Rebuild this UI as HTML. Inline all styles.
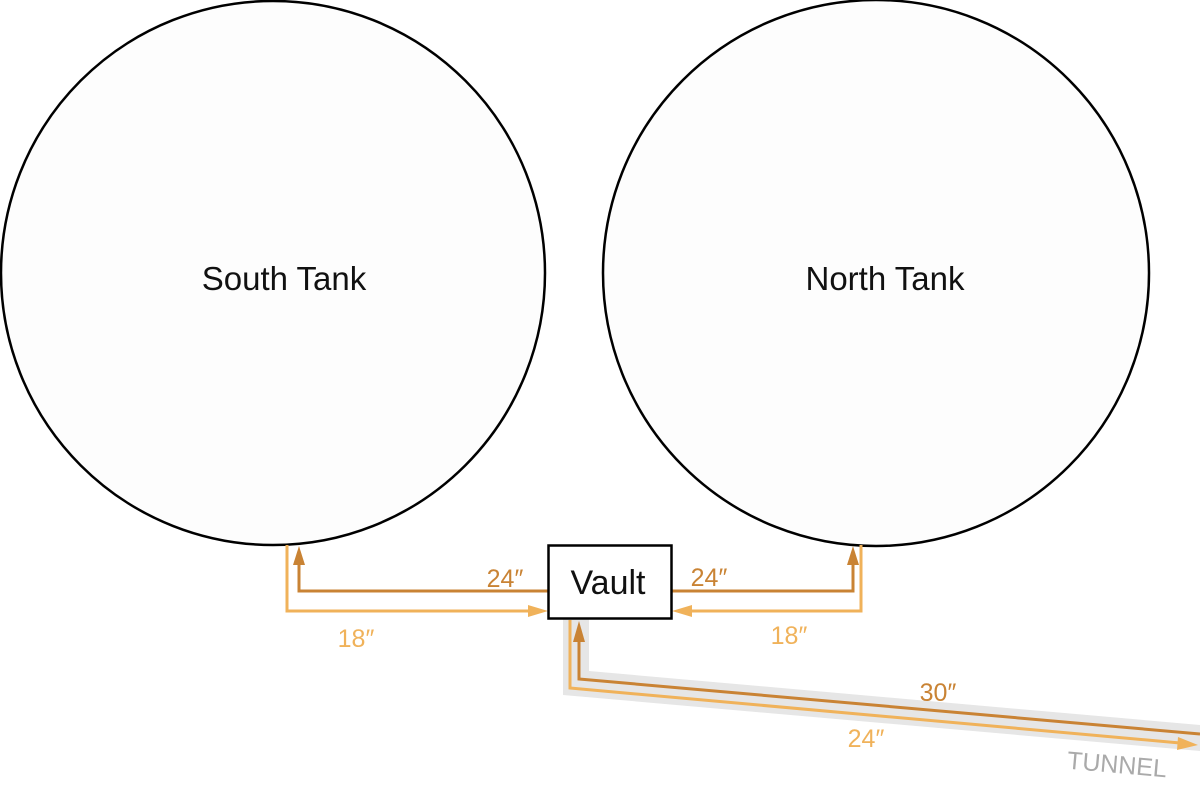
<!DOCTYPE html>
<html><head><style>
html,body{margin:0;padding:0;background:#fff;}
svg{display:block;}
text{font-family:"Liberation Sans",Arial,sans-serif;}
</style></head><body>
<svg width="1200" height="786" viewBox="0 0 1200 786" xmlns="http://www.w3.org/2000/svg">
<circle cx="273" cy="273" r="272" fill="#fdfdfd" stroke="#000" stroke-width="2.5"/>
<circle cx="876" cy="273" r="273" fill="#fdfdfd" stroke="#000" stroke-width="2.5"/>
<text x="284" y="290" font-size="33" text-anchor="middle" fill="#111">South Tank</text>
<text x="885" y="290" font-size="33" text-anchor="middle" fill="#111">North Tank</text>
<!-- tunnel band -->
<polygon points="563,619 589,619 589,671 1200,725 1200,751 563,695" fill="#e6e6e6"/>
<!-- left lines -->
<polyline points="548,591 299,591 299,562" fill="none" stroke="#c98334" stroke-width="3"/>
<polygon points="299,546 293,565 305,565" fill="#c98334"/>
<polyline points="287,545 287,611 532,611" fill="none" stroke="#f0b25a" stroke-width="3"/>
<polygon points="548,611 528,605 528,617" fill="#f0b25a"/>
<!-- right lines -->
<polyline points="672,591 853,591 853,562" fill="none" stroke="#c98334" stroke-width="3"/>
<polygon points="853,546 847,565 859,565" fill="#c98334"/>
<polyline points="861,545 861,611 688,611" fill="none" stroke="#f0b25a" stroke-width="3"/>
<polygon points="672,611 692,605 692,617" fill="#f0b25a"/>
<!-- tunnel lines -->
<polyline points="1200,734 579,679 579,638" fill="none" stroke="#c98334" stroke-width="3"/>
<polygon points="579,621 573,642 585,642" fill="#c98334"/>
<polyline points="570,620 570,688 1180,743" fill="none" stroke="#f0b25a" stroke-width="3"/>
<polygon points="1198,745 1178,737 1177,750" fill="#f0b25a"/>
<!-- vault -->
<rect x="548.5" y="545.5" width="123" height="73" fill="#fff" stroke="#000" stroke-width="2.5"/>
<text x="608" y="594" font-size="34" text-anchor="middle" fill="#111">Vault</text>
<g font-size="25">
<text x="505" y="587" text-anchor="middle" fill="#c98334">24″</text>
<text x="709" y="586" text-anchor="middle" fill="#c98334">24″</text>
<text x="356" y="647" text-anchor="middle" fill="#f0b25a">18″</text>
<text x="789" y="644" text-anchor="middle" fill="#f0b25a">18″</text>
<text x="938" y="701" text-anchor="middle" fill="#c98334">30″</text>
<text x="866" y="747" text-anchor="middle" fill="#f0b25a">24″</text>
</g>
<text x="1117" y="773" font-size="25" text-anchor="middle" fill="#aaa" transform="rotate(5 1117 765)">TUNNEL</text>
</svg>
</body></html>
